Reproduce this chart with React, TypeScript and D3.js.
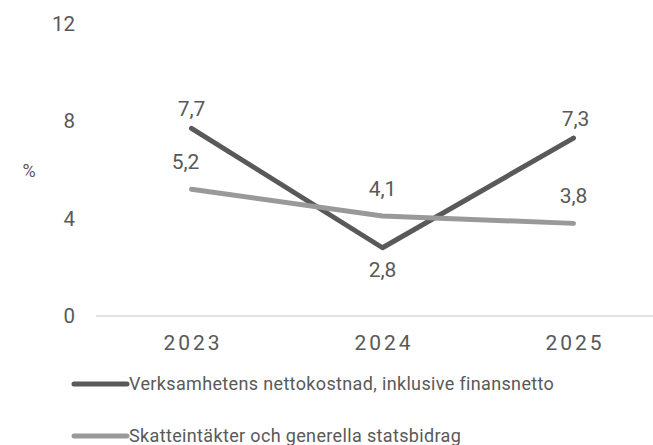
import React from "react";
import * as d3 from "d3";

const years = ["2023", "2024", "2025"];
const nettokostnad = [7.7, 2.8, 7.3];
const skatteintakter = [5.2, 4.1, 3.8];
const yTicks = [0, 4, 8, 12];
const seriesNames = [
  "Verksamhetens nettokostnad, inklusive finansnetto",
  "Skatteintäkter och generella statsbidrag",
];

const W = 653;
const H = 445;
const font = "Roboto, 'Noto Sans', sans-serif";

export default function App() {
  const x = d3.scaleBand<string>().domain(years).range([96, 669]);
  const y = d3.scaleLinear().domain([0, 12]).range([316, 23.5]);
  const cx = (d: string) => (x(d) as number) + x.bandwidth() / 2;
  const line = d3
    .line<number>()
    .x((_, i) => cx(years[i]))
    .y((v) => y(v));

  const series = [
    { name: seriesNames[0], values: nettokostnad, color: "#595959", pos: ["above", "below", "above"], dx: [0, 0, 2] },
    { name: seriesNames[1], values: skatteintakter, color: "#999999", pos: ["above", "above", "above"], dx: [-6, 0, 0] },
  ];

  return (
    <svg width={W} height={H} style={{ position: "absolute", left: 0, top: 0, background: "#fff" }}>
      <line x1={96} x2={W} y1={y(0)} y2={y(0)} stroke="#d9d9d9" strokeWidth={1.5} />
      {yTicks.map((t) => (
        <text key={t} x={75} y={y(t)} dy="0.36em" textAnchor="end" fontFamily={font} fontSize={20.5} fill="#595959">
          {t}
        </text>
      ))}
      <text x={29} y={171} dy="0.36em" textAnchor="middle" fontFamily={font} fontSize={18} fill="#595959">%</text>
      {years.map((yr) => (
        <text key={yr} x={cx(yr) + 1.5} y={342} dy="0.36em" textAnchor="middle" fontFamily={font} fontSize={21} letterSpacing={3} fill="#595959">
          {yr}
        </text>
      ))}
      {series.map((s) => (
        <path key={s.name} d={line(s.values) || ""} fill="none" stroke={s.color} strokeWidth={5} strokeLinecap="round" strokeLinejoin="round" />
      ))}
      {series.map((s, si) =>
        s.values.map((v, i) => {
          const above = s.pos[i] === "above";
          const off = si === 0 ? (above ? -20 : 22) : -28;
          return (
            <text key={si + "-" + i} x={cx(years[i]) + s.dx[i]} y={y(v) + off} dy="0.36em" textAnchor="middle" fontFamily={font} fontSize={21} fill="#595959">
              {String(v).replace(".", ",")}
            </text>
          );
        })
      )}
      {series.map((s, i) => {
        const ly = 384 + i * 52;
        return (
          <g key={s.name}>
            <line x1={74} x2={127} y1={ly} y2={ly} stroke={s.color} strokeWidth={5} strokeLinecap="round" />
            <text x={129} y={ly} dy="0.36em" fontFamily={font} fontSize={18} letterSpacing={0.35} fill="#595959">
              {s.name}
            </text>
          </g>
        );
      })}
    </svg>
  );
}
